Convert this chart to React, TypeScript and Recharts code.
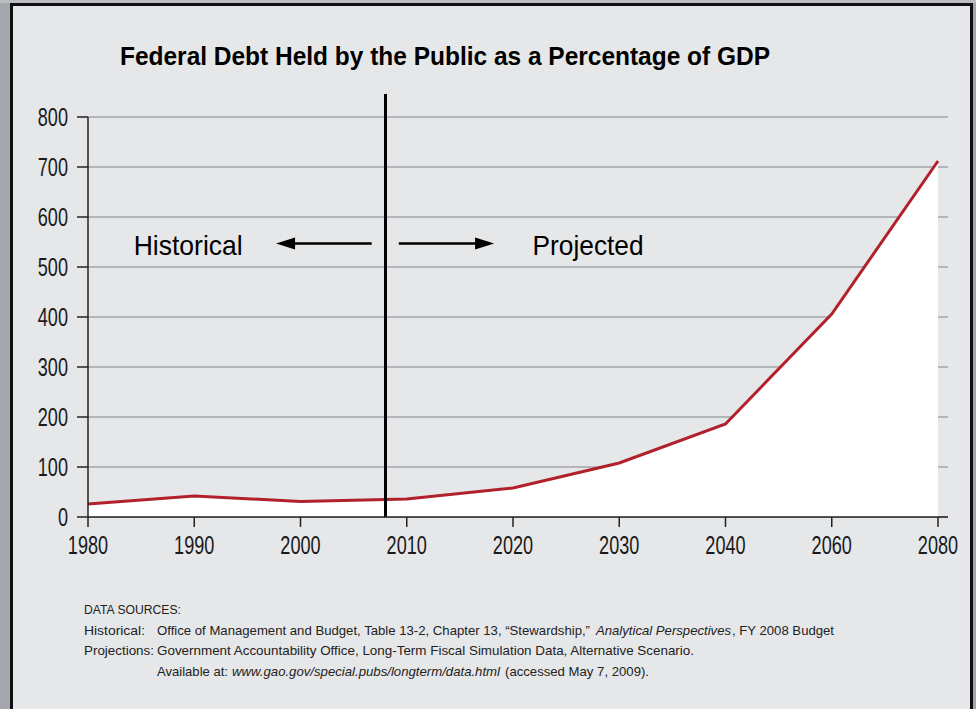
import React from "react";
import {
  ComposedChart,
  Area,
  XAxis,
  YAxis,
  CartesianGrid,
  ReferenceLine,
} from "recharts";

// categories (equally spaced on the axis, even where the gap is 20 years)
const YEARS = ["1980", "1990", "2000", "2010", "2020", "2030", "2040", "2060", "2080"];
// debt held by the public, % of GDP
const DEBT = [26, 42, 31, 36, 58, 108, 186, 406, 712];
const Y_TICKS = [0, 100, 200, 300, 400, 500, 600, 700, 800];

const DIVIDER_YEAR = 2008;

const FONT = "'Liberation Sans', Arial, sans-serif";
const RED = "#b2212b";
const SQUEEZE = 0.71; // condensed look for the tick labels

// map a calendar year onto the category index axis
const yearToIdx = (year: number) => {
  const ys = YEARS.map(Number);
  for (let i = 0; i < ys.length - 1; i++) {
    if (year >= ys[i] && year <= ys[i + 1]) {
      return i + (year - ys[i]) / (ys[i + 1] - ys[i]);
    }
  }
  return 0;
};

const data = YEARS.map((year, i) => ({ idx: i, year, debt: DEBT[i] }));
const dividerIdx = yearToIdx(DIVIDER_YEAR);

const squeeze = (x: number) => `translate(${x},0) scale(${SQUEEZE},1) translate(${-x},0)`;

const XTick = (props: any) => {
  const { x, y, payload } = props;
  return (
    <text x={x} y={y} dy="0.71em" textAnchor="middle" fontSize={25.5} fill="#1a1a1a" transform={squeeze(x)}>
      {YEARS[payload.value]}
    </text>
  );
};

const YTick = (props: any) => {
  const { x, y, payload } = props;
  return (
    <text x={x} y={y} dy="0.36em" textAnchor="end" fontSize={25.5} fill="#1a1a1a" transform={squeeze(x)}>
      {payload.value}
    </text>
  );
};

// line with an arrowhead at (x2, y2)
const Arrow = (props: any) => {
  const { x1, y1, x2, y2 } = props;
  if (x1 == null) return null;
  const dir = x2 > x1 ? 1 : -1;
  const head = 19;
  return (
    <g>
      <line x1={x1} y1={y1} x2={x2 - dir * head + dir * 2} y2={y2} stroke="#000" strokeWidth={2.5} />
      <polygon
        points={`${x2},${y2} ${x2 - dir * head},${y2 - 6} ${x2 - dir * head},${y2 + 6}`}
        fill="#000"
      />
    </g>
  );
};

const TextAt = (value: string, width: number) => (props: any) => {
  const { x1, y1 } = props;
  if (x1 == null) return null;
  return (
    <text
      x={x1}
      y={y1}
      dy="0.36em"
      fontSize={28}
      fill="#000"
      textLength={width}
      lengthAdjust="spacingAndGlyphs"
    >
      {value}
    </text>
  );
};

// one run of footnote text fitted to a given width
const Note = ({ x, y, w, italic, children }: any) => (
  <text x={x} y={y} textLength={w} lengthAdjust="spacingAndGlyphs" fontStyle={italic ? "italic" : "normal"}>
    {children}
  </text>
);

export default function App() {
  return (
    <div
      style={{
        position: "absolute",
        left: 0,
        top: 0,
        width: 976,
        height: 709,
        background: "#a5a7af",
        overflow: "hidden",
        fontFamily: FONT,
      }}
    >
      <div style={{ position: "absolute", left: 0, top: 0, width: 976, height: 3, background: "#bcbdc1" }} />
      <div
        style={{
          position: "absolute",
          left: 10,
          top: 3,
          width: 957,
          height: 740,
          border: "3px solid #111",
          background: "#e6e7e9",
        }}
      />

      <div style={{ position: "absolute", left: 0, top: 0 }}>
        <ComposedChart
          width={976}
          height={709}
          data={data}
          margin={{ top: 117, right: 28, bottom: 152, left: 28 }}
          style={{ fontFamily: FONT }}
        >
          <CartesianGrid vertical={false} stroke="#a3a5ab" strokeWidth={1.5} />
          <XAxis
            type="number"
            dataKey="idx"
            domain={[0, YEARS.length - 1]}
            ticks={YEARS.map((_, i) => i)}
            padding={{ left: 0, right: 10 }}
            height={40}
            tickSize={10}
            tickMargin={9}
            stroke="#222"
            strokeWidth={1.5}
            tick={<XTick />}
            allowDecimals={false}
          />
          <YAxis
            domain={[0, 800]}
            ticks={Y_TICKS}
            width={60}
            tickSize={11}
            tickMargin={9}
            stroke="#222"
            strokeWidth={1.5}
            tick={<YTick />}
            interval={0}
          />
          <Area
            type="linear"
            dataKey="debt"
            stroke={RED}
            strokeWidth={3}
            fill="#ffffff"
            fillOpacity={1}
            isAnimationActive={false}
            dot={false}
            activeDot={false}
          />
          <ReferenceLine
            segment={[
              { x: dividerIdx, y: 0 },
              { x: dividerIdx, y: 846 },
            ]}
            stroke="#000"
            strokeWidth={3}
            ifOverflow="visible"
          />
          <ReferenceLine
            segment={[
              { x: 2.67, y: 547 },
              { x: 1.77, y: 547 },
            ]}
            shape={Arrow}
            ifOverflow="visible"
          />
          <ReferenceLine
            segment={[
              { x: 2.925, y: 547 },
              { x: 3.822, y: 547 },
            ]}
            shape={Arrow}
            ifOverflow="visible"
          />
          <ReferenceLine
            segment={[
              { x: 0.43, y: 545 },
              { x: 0.43, y: 545 },
            ]}
            shape={TextAt("Historical", 109)}
            ifOverflow="visible"
          />
          <ReferenceLine
            segment={[
              { x: 4.184, y: 545 },
              { x: 4.184, y: 545 },
            ]}
            shape={TextAt("Projected", 111)}
            ifOverflow="visible"
          />
        </ComposedChart>
      </div>

      <svg
        width={976}
        height={709}
        style={{ position: "absolute", left: 0, top: 0, pointerEvents: "none", fontFamily: FONT }}
      >
        <text x={120} y={65} fontSize={26} fontWeight="bold" fill="#000" textLength={650} lengthAdjust="spacingAndGlyphs">
          Federal Debt Held by the Public as a Percentage of GDP
        </text>
        <g fontSize={13.4} fill="#222">
          <Note x={84} y={614} w={97}>DATA SOURCES:</Note>
          <Note x={84} y={634.5} w={61}>Historical:</Note>
          <Note x={157} y={634.5} w={433}>
            Office of Management and Budget, Table 13-2, Chapter 13, “Stewardship,”
          </Note>
          <Note x={596} y={634.5} w={135} italic>
            Analytical Perspectives
          </Note>
          <Note x={732} y={634.5} w={102}>
            , FY 2008 Budget
          </Note>
          <Note x={84} y={655} w={70}>Projections:</Note>
          <Note x={157} y={655} w={537}>
            Government Accountability Office, Long-Term Fiscal Simulation Data, Alternative Scenario.
          </Note>
          <Note x={157} y={675.5} w={71}>Available at:</Note>
          <Note x={232} y={675.5} w={268} italic>
            www.gao.gov/special.pubs/longterm/data.html
          </Note>
          <Note x={505} y={675.5} w={144}>
            (accessed May 7, 2009).
          </Note>
        </g>
      </svg>
    </div>
  );
}
